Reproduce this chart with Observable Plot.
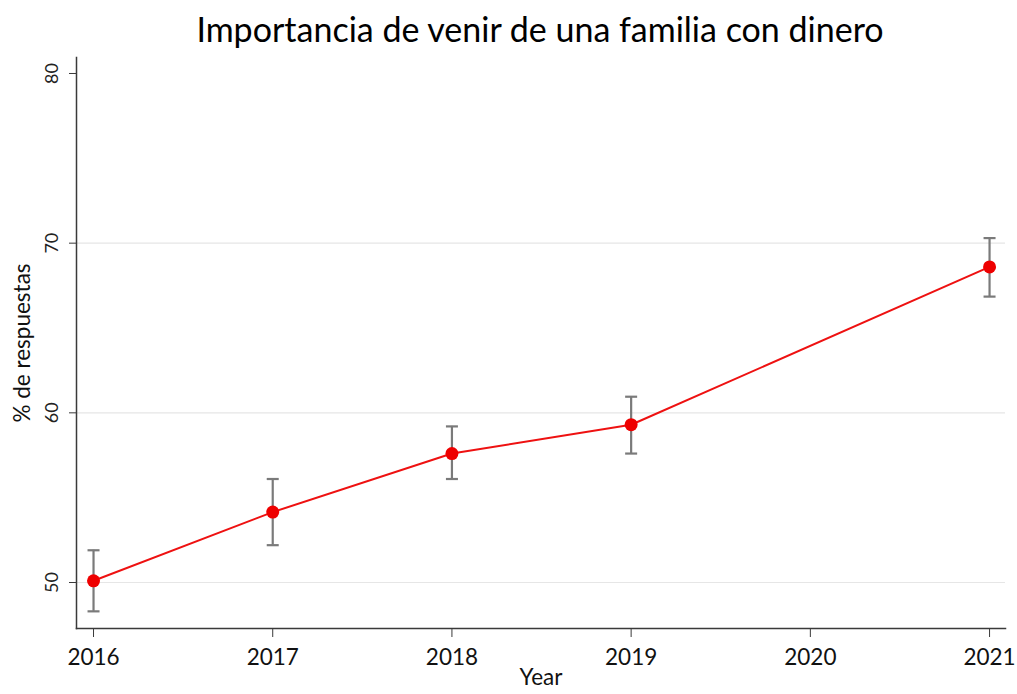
<!DOCTYPE html>
<html>
<head>
<meta charset="utf-8">
<script src="https://cdn.jsdelivr.net/npm/d3@7"></script>
<script src="https://cdn.jsdelivr.net/npm/@observablehq/plot@0.6"></script>
<style>
  body { margin: 0; background: #fff; }
  #title { position: relative; height: 50px; width: 1017px; font-family: Lato, sans-serif; font-size: 34px; color: #000; }
  #title span { position: absolute; left: 40px; width: 1000px; text-align: center; top: 12px; line-height: 1; }
  #chart svg { display: block; }
</style>
</head>
<body>
<div id="title"><span>Importancia de venir de una familia con dinero</span></div>
<div id="chart"></div>
<script>
const years = [2016, 2017, 2018, 2019, 2021];
const means = [50.1, 54.15, 57.6, 59.3, 68.6];
const lower = [48.3, 52.2, 56.1, 57.6, 66.85];
const upper = [51.9, 56.1, 59.2, 60.95, 70.3];
const xTicks = [2016, 2017, 2018, 2019, 2020, 2021];
const yTicks = [50, 60, 70, 80];
const gridTicks = [50, 60, 70];
const yLabel = "% de respuestas";
const xLabel = "Year";

const data = years.map((y, i) => ({year: y, mean: means[i], lo: lower[i], hi: upper[i]}));

const capSymbol = {
  draw(context, size) {
    const w = Math.sqrt(size / Math.PI);
    context.moveTo(-w, 0);
    context.lineTo(w, 0);
  }
};

const chart = Plot.plot({
  width: 1017,
  height: 644,
  marginTop: 7,
  marginBottom: 66,
  marginLeft: 76,
  marginRight: 12,
  style: {fontFamily: "Lato, sans-serif", color: "#333", background: "#fff"},
  x: {domain: [2015.905, 2021.089]},
  y: {domain: [47.289, 80.943]},
  marks: [
    Plot.gridY(gridTicks, {stroke: "#e6e6e6", strokeOpacity: 1, strokeWidth: 1.2}),
    Plot.frame({anchor: "left", stroke: "#3a3a3a", strokeWidth: 1.5}),
    Plot.frame({anchor: "bottom", stroke: "#3a3a3a", strokeWidth: 1.5}),
    Plot.axisY({ticks: yTicks, tickSize: 7, tickPadding: 12, tickRotate: -90, fontSize: 18, label: null, stroke: "#3a3a3a", fill: "#222"}),
    Plot.axisX({ticks: xTicks, tickFormat: d => String(d), tickSize: 9, tickPadding: 12, fontSize: 22.5, label: null, stroke: "#3a3a3a", fill: "#111"}),
    Plot.ruleX(data, {x: "year", y1: "lo", y2: "hi", stroke: "#7a7a7a", strokeWidth: 2.2}),
    Plot.dot(data, {x: "year", y: "lo", symbol: capSymbol, r: 6, stroke: "#7a7a7a", strokeWidth: 2.2}),
    Plot.dot(data, {x: "year", y: "hi", symbol: capSymbol, r: 6, stroke: "#7a7a7a", strokeWidth: 2.2}),
    Plot.line(data, {x: "year", y: "mean", stroke: "#ee1111", strokeWidth: 2}),
    Plot.dot(data, {x: "year", y: "mean", r: 6.5, fill: "#ee0000", stroke: "none"}),
    Plot.text([yLabel], {frameAnchor: "left", textAnchor: "middle", dx: -54, rotate: -90, fontSize: 22.5, fill: "#111"}),
    Plot.text([xLabel], {frameAnchor: "bottom", dy: 56, fontSize: 22.5, fill: "#111"})
  ]
});
document.getElementById("chart").appendChild(chart);
</script>
</body>
</html>
